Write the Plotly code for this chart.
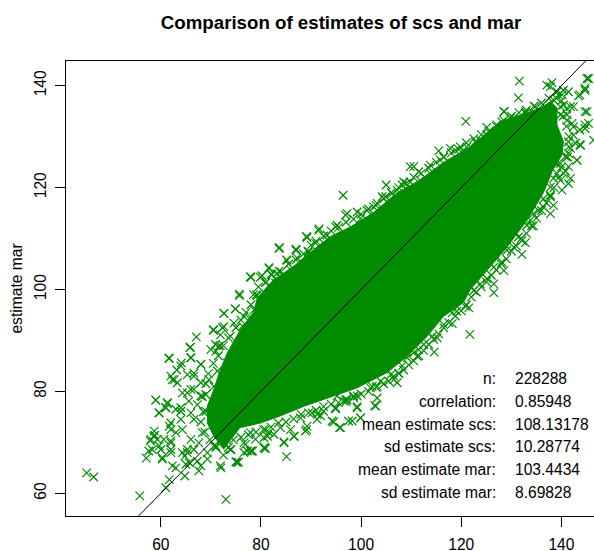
import plotly.graph_objects as go

GREEN = "#008B00"
FONT = "Liberation Sans, Arial, Helvetica, sans-serif"

# outline of the saturated cloud (scs, mar)
cloud_scs = [72.6,70.6,69.3,69.3,70.6,71.9,73.3,75.9,78.5,79.3,82.5,86.5,90.5,93.9,97.9,102.5,107.2,111.8,116.4,121.8,127.8,131.8,135.8,137.8,139.1,139.1,140.4,140.1,138.4,137.1,136.4,133.2,129.2,125.8,121.8,120.4,116.4,113.2,109.2,105.2,102.5,99.2,94.5,88.6,83.9,79.9,75.9]
cloud_mar = [68.6,71.2,73.8,77.1,80.4,84.3,87.6,92.1,95.5,98.4,101.9,104.5,107.8,110.4,112.3,115.1,119,121.5,124.9,128,133,134.2,135.6,136.9,135.6,132.3,129,126.4,123.8,120.5,119,113.7,108.4,104.5,100,97.4,94.7,90.8,86.9,83.7,82.3,80.7,79.1,77.1,75.2,73.8,72.9]

# individually visible points outside the cloud
out_scs = [45.2,46.6,55.8,73.0,85.1,61,61.7,64.8,57.1,57.6,57.9,58.8,58.7,59.7,60.3,62,62,63,61.7,59.7,59,61.3,61,62.3,63.3,63.2,61.7,64.1,66,65.9,67.1,70.5,72.6,74.9,72.3,71,65.3,66.6,68,64,66.6,63,64.8,67.6,72,75,75.5,78.3,80.9,84.6,86.6,89.1,91.2,69.3,70.6,74,76.6,81.3,67.6,65.3,65.7,
           75.7,83.6,91.5,89.2,87,85.2,81.6,78,79.9,79.2,83.2,89.5,
           96.4,131.6,131.4,120.9,138.1,145.1,144.7,143.4,128.6,125.1,117.8,115.5,110.5,113.8,105,104.9,108.2,96.9,95.2,99.2,121.1,145.1,144.7,146.4,143.8,143.1,141.4,141.4,141.4,140.1,137.8,138.4,134.4,132.8,132.1,128.5,126.5,126.5,137.8,141.8,140.4,139.8,142.4,141.1,139.1,137.1,
           121.7,114.6,118.2,121.5,119.1,115.2,111.2,107.5,107.2,103.2,102.7,99.2,94.9,95.9,98.2,99.9,94.2,97.2,103.2]
out_mar = [64.0,63.2,59.5,58.8,67.2,61.1,62.7,63.4,66.9,68.3,70.3,71.4,72.2,69.3,67,68.6,70.3,71.9,73.2,75.8,78.3,77.6,76.8,82.3,81.7,84.2,86.5,85.6,86.6,88.7,90.7,92,95.3,96.2,92.5,87.9,79.7,83,85.3,76.8,80.4,65,67.3,64.4,65,66.2,66.1,68.3,68.8,69.9,71.2,72.5,75.5,66.7,69.3,68.6,69.9,71.2,69.9,68.6,66,
           98.8,108.1,111.6,110.2,107.7,105.7,104.1,102.4,102.4,98.8,103.1,107.3,
           118.5,140.9,137.6,133,140.6,141.4,139.1,138,134.9,131.8,127.7,127.2,124.1,124.4,120.5,118.2,120.5,114.6,112.6,115.2,128,134.9,132.3,129.3,128.3,125.4,126.7,124.1,120.8,119.5,114.9,116.5,112.5,109.2,106.9,103.7,101.1,99.4,118.2,135.9,139.1,135.9,131.9,133.2,138.8,140.1,
           91.2,87.7,93.3,96.4,95.7,90.5,86.9,83.6,81.7,78.7,77.2,77,76.8,72.9,74.2,74.8,74.2,78.4,81]

# points forming the frayed rim of the cloud
rim_scs = [83.7,87,85.1,87.2,81.6,77.9,80.2,83.6,85.9,87.9,89.4,91.6,89.1,90.9,93.2,75.7,79.1,80.9,82.9,72.6,74.9,76.6,78.6,70.5,72.6,74.6,76.3,71.9,73.9,70.9,71.9,77.9,79.9,82.2,84.6,89.9,93.9,92.5,
           65.8,61.6,66,64,62.7,62,68,66.6,65.3,70,71.6,59,61,59.6,61.3,64.3,66,68,69.6,71.3,62,64,65.6,68,58.6,58,60,62,64.3,66.6,69,58.3,60.3,62,62.3,64.3,66,68.3,70.6,65,68,69.3,71.9,71,75.2,73.9,76.6,78.2,80.6,77.9,80.9,59.3,62,64,66,67.3,69,70.6,72.3,73.3,74.6,66.6,63,60.6,67.3,65.3,
           137.8,140.1,141.4,143.7,144.7,145.4,142.4,140.4,141.1,139.8,142.1,144.7,145.4,143.7,142.4,143.7,141.8,140.8,143.1,139.1,140.8,141.8,138.4,141.4,142.8,128.5,130.5,132.8,134.8,144.7,139.4,138.4,
           77.9,80.7,84.6,86.6,80.6,81.6,78.9,76.9,88.9,89.2,87.9,91.2,92.5,94.5,95.7,97.5,94.9,96.9,99.2,99.9,102.9,99.2,102.2,83.9,82.6,90.2,77.3,91.9,85.9,
           94.9,97.2,101.2,102.5,104.2,106.2,107.2,109.8,111.5,111.8,113.8,116.5,118.8,120.5,122.8,125.1,127.1,128.1,129.8,132.8,134.4,115.8,108.5,99.9,103.2,109.8,119.8,123.8,
           139.8,139.1,140.4,139.8,137.8,136.4,135.4,133.8,133.1,131.4,130.5,129.1,128.1,126.5,125.1,123.8,122.5,136.4,132.1,134.4,
           120.8,118.2,116.5,114.2,112.5,110.5,108.2,105.9,103.9,101.9,98.5,95.2,109.2,111.5,106.5,96.5]
rim_mar = [108.2,107.9,105.8,106.2,104.3,102.5,102.7,103.6,103.9,105.5,107.5,111.9,110.4,109.1,110.7,99.1,99,101.3,101.3,95.3,96.2,94.7,96,92.1,92.7,93.4,92.8,91.1,90.8,89.2,89,94.1,96.7,102.9,102.6,106.5,109.8,109.1,
           88.6,86.5,86.6,85,82.3,83,85.3,83.6,83.3,88.2,88.9,78.3,76.8,75.8,77.8,79.7,80.4,81.7,82.3,84,73.8,76.1,78.1,79.1,71.2,70.6,68.6,69.9,72.5,74.5,76.1,68.6,66.7,68,65.4,68,70.6,71.9,73.8,65.7,65.4,68,65.4,69.3,66.1,68.6,68,68.3,68.9,71.9,72.5,70.6,72.5,74.5,75.8,77.4,79.4,81,83,85.6,87.2,68.6,76.5,70.6,66.3,68,
           139.8,138.2,138.8,138.2,139.5,141.4,135.9,136.2,134.3,134.3,132.6,134.9,132.6,131.3,130.3,128.4,127.7,126.1,125.4,124.5,123.2,121.8,121.8,129,128.7,134.9,133.6,134.6,135.9,131.6,138.2,137.2,
           68.3,69,70.1,71.2,70.9,71.9,70.6,69.6,72.2,73.2,74.8,74.5,76.1,74,72.9,74.2,76.6,78.4,76.8,74.8,77.1,79.1,81,72.9,71.6,75.8,68.3,75.2,72.5,
           112.3,114.9,115.5,116.2,118.2,118.8,119.5,124.1,123.1,121.4,122.8,126,127.3,127,129,130.3,132.3,132.9,133.6,134.9,134.6,125.4,121.1,113.9,116.9,121.1,128,129.3,
           124.7,122.8,122.8,121.4,120.1,117.8,115.5,113.6,112.6,110.3,108.3,107.7,105.4,104.4,102.1,101.1,99.8,116.2,109.6,114.9,
           96.7,95.4,93.1,90.8,89.2,87.6,85,83.3,82,80.7,79.1,79.1,86.6,88.2,82.3,78.1]

# points packed tight along the edge of the cloud
edge_scs = [68.5,68.3,69,69.5,70.5,71.5,72.5,73.5,75,76,77,78,78.5,79.5,81,82,84,85.5,87,88.5,90,91,92.5,94,95.5,97,98.5,100,101.5,103,104.5,106,107.5,109,110.5,112,113.5,115,116.5,118,119.5,121,122.5,124,125.5,127,128.5,130,131.5,133,134.5,136,137.5,139,140,141,140.3,141,141.5,141.5,141.2,140,139.5,138.5,137.8,137,136,135,134,133,132,131,130,129,128,127,126,125,124,123,122,121,120,118.8,117.5,116.5,115.5,114.5,113.5,112.5,111.5,110.5,109.5,108.5,107.5,106.5,105.5,104.5,103,101.5,100,98.5,97,95.5,94,92.5,91,89.5,88,86.5,85,83.5,82,80.5,79,77.5,76,74.5,73.5,72.5,71,69.8,68.8,68]
edge_mar = [76,79,81.5,83.5,85.5,87,89,90.5,92.5,94,95.5,97,99,100.5,101.5,103,103.5,105,105.8,107,108.7,109.5,110.5,111.5,112.2,113.2,113.8,114.8,115.8,116.5,117.8,119,120,120.8,122,122.8,123.8,125,126,126.8,127.5,128.8,129.6,130.4,131,132,133.2,134,134.7,135.2,136,136.6,137.5,137.5,137,135.5,134,132,130,128,126,124,122,120,118.5,117,115.5,114,112.5,111,110,108.5,107.5,106,105,103.8,102.8,101.5,100.5,99.5,98.5,97,95.8,94.8,93.5,92.5,91.3,90.2,89.2,88,87,86,85.2,84.2,83.5,83,82,81.5,80.8,80,79.5,78.8,78,77.8,77.5,77,76.3,75.8,75.5,74.6,74,73.8,73,72.5,72,71.5,71,70.5,69,67.5,69,70.5,72,74]

# identity line ends
line_scs = [55.55, 144.84]
line_mar = [55.55, 144.84]

# statistics table
stat_names = ["n:", "correlation:", "mean estimate scs:", "sd estimate scs:", "mean estimate mar:", "sd estimate mar:"]
stat_values = ["228288", "0.85948", "108.13178", "10.28774", "103.4434", "8.69828"]
stat_rows = [82.5, 78.1, 73.6, 69.2, 64.6, 60.2]

x_ticks = [60, 80, 100, 120, 140]
y_ticks = [60, 80, 100, 120, 140]

mark = dict(symbol="x-thin", size=8.5, color=GREEN, line=dict(color=GREEN, width=1.2))

fig = go.Figure()
fig.add_trace(go.Scatter(x=cloud_scs, y=cloud_mar, fill="toself", fillcolor=GREEN, mode="lines",
                         line=dict(color=GREEN, width=1), hoverinfo="skip", showlegend=False))
fig.add_trace(go.Scatter(x=edge_scs, y=edge_mar, mode="markers", marker=mark, showlegend=False))
fig.add_trace(go.Scatter(x=rim_scs, y=rim_mar, mode="markers", marker=mark, showlegend=False))
fig.add_trace(go.Scatter(x=out_scs, y=out_mar, mode="markers", marker=mark, showlegend=False))
fig.add_trace(go.Scatter(x=line_scs, y=line_mar, mode="lines", line=dict(color="black", width=1), showlegend=False))

for name, val, yy in zip(stat_names, stat_values, stat_rows):
    fig.add_annotation(x=127.3, y=yy, text=name, xanchor="right", yanchor="middle", showarrow=False,
                       font=dict(family=FONT, size=15.6, color="black"))
    fig.add_annotation(x=130.3, y=yy, text=val, xanchor="left", yanchor="middle", showarrow=False,
                       font=dict(family=FONT, size=15.6, color="black"))

fig.update_layout(
    width=594, height=551,
    margin=dict(l=65.5, r=0, t=61, b=34.5, autoexpand=False),
    paper_bgcolor="white", plot_bgcolor="white",
    font=dict(family=FONT, size=15.6, color="black"),
    title=dict(text="<b>Comparison of estimates of scs and mar</b>", x=341/594, xref="container", xanchor="center",
               y=1-22/551, yref="container", yanchor="middle", font=dict(family=FONT, size=18.7, color="black")),
    xaxis=dict(range=[41.07, 146.5], tickvals=x_ticks, ticks="outside", ticklen=10, tickwidth=1, tickcolor="black",
               showline=True, linecolor="black", linewidth=1, mirror=True, showgrid=False, zeroline=False,
               ticklabelstandoff=4),
    yaxis=dict(range=[55.55, 144.84], tickvals=y_ticks, ticks="outside", ticklen=10, tickwidth=1, tickcolor="black",
               tickangle=-90, showline=True, linecolor="black", linewidth=1, showgrid=False, zeroline=False,
               ticklabelstandoff=3,
               title=dict(text="estimate mar", standoff=5, font=dict(family=FONT, size=15.6, color="black"))),
)
fig.write_html("out.html", config={"displayModeBar": False}, post_script="document.body.style.margin='0';")
